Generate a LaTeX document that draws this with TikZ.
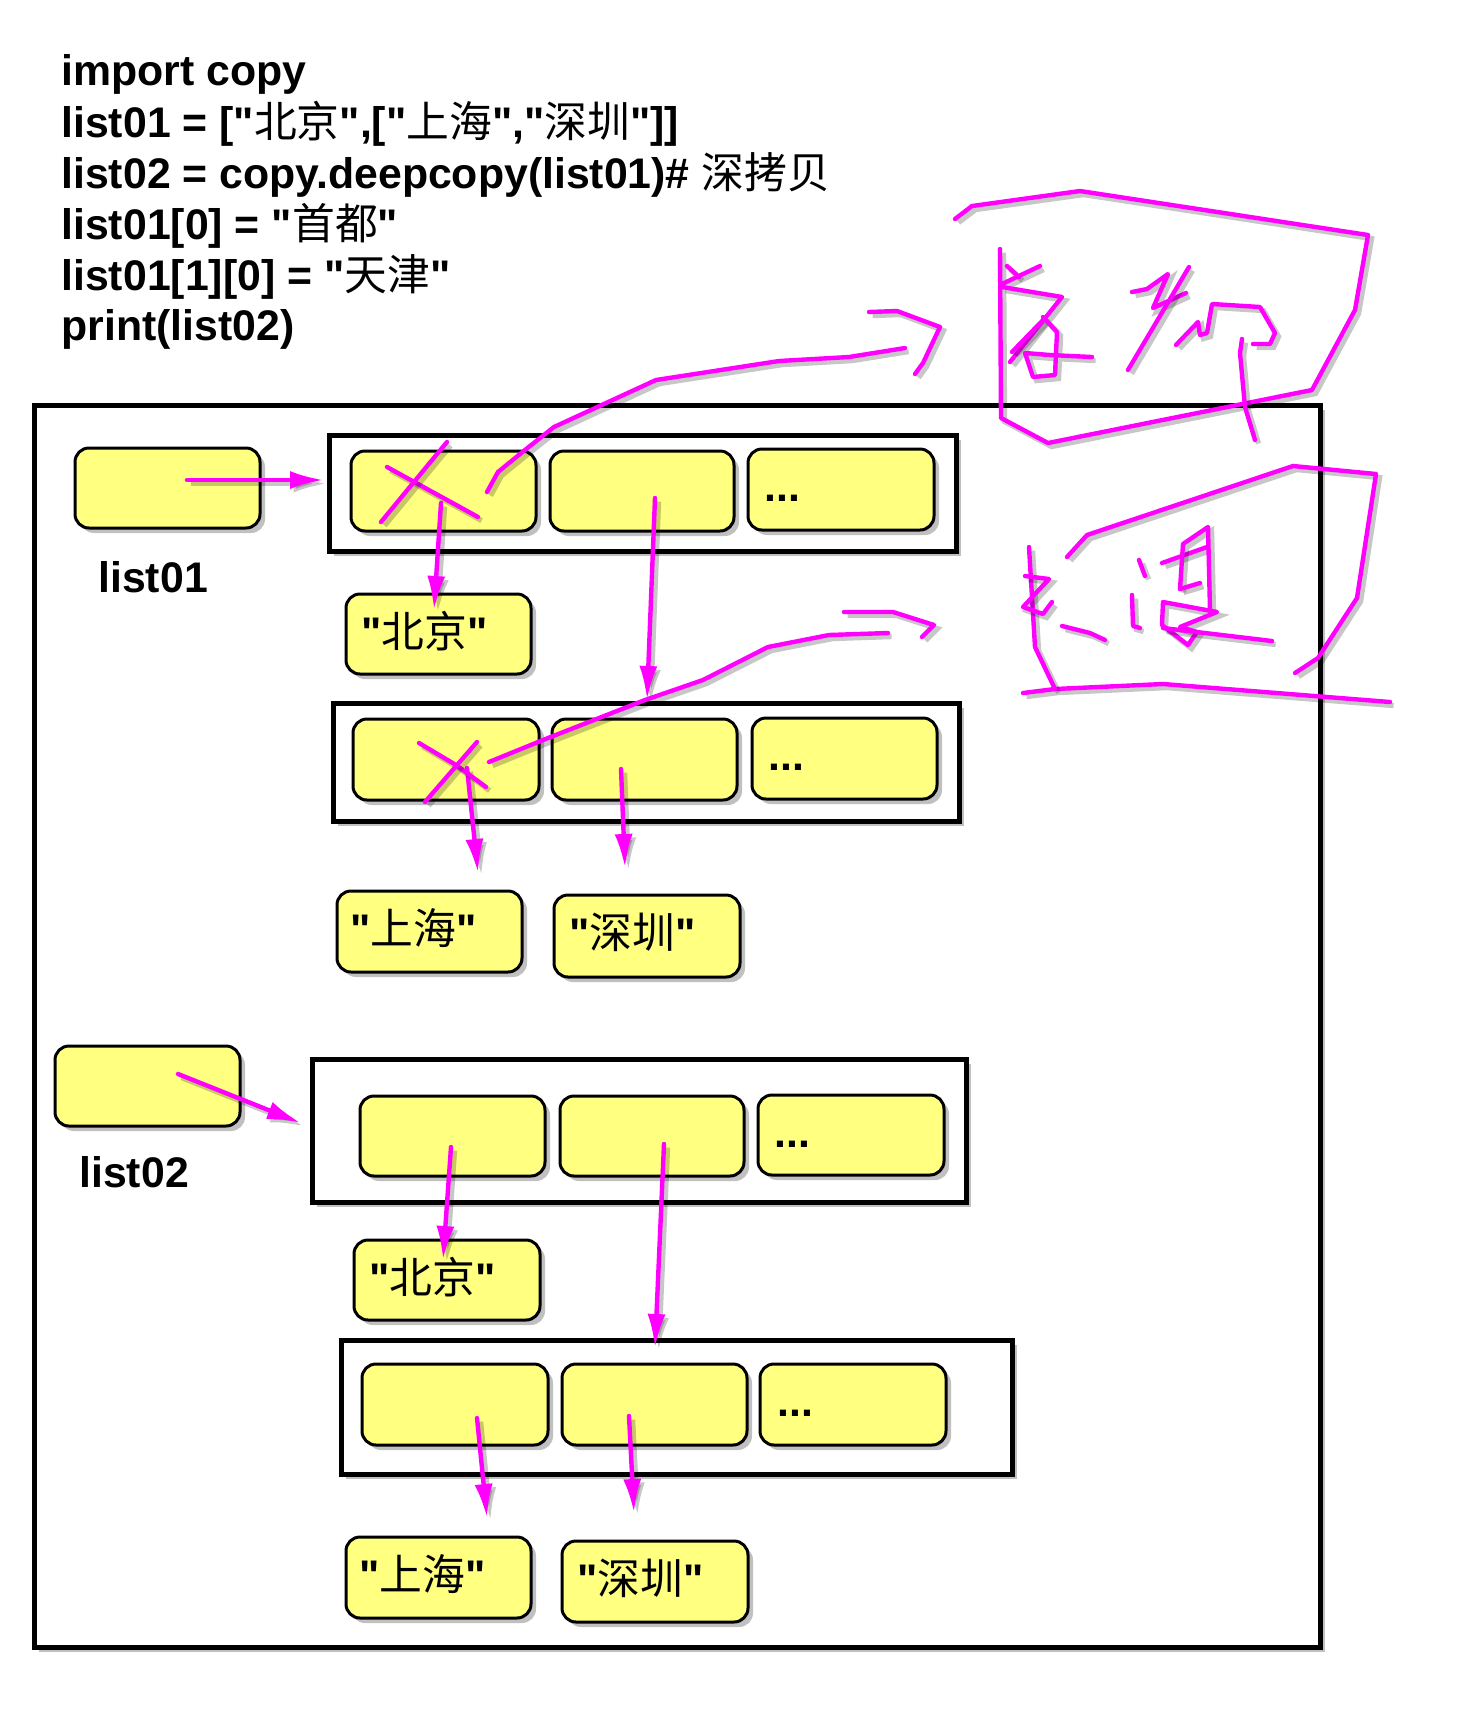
\documentclass[tikz,border=0pt]{standalone}
\usepackage{fontspec}
\setmainfont{Liberation Sans}[Ligatures=TeXOff]
\newfontfamily\zhfont{Noto Sans CJK SC}
\newcommand\zh[1]{{\zhfont\mdseries #1}}
\usetikzlibrary{arrows.meta,fit,shadows}
\definecolor{cellyellow}{RGB}{255,255,128}
\definecolor{inkmag}{RGB}{255,0,255}
\begin{document}
\begin{tikzpicture}[x=0.5pt,y=-0.5pt,
  shad/.style={drop shadow={shadow xshift=2.5pt,shadow yshift=-2.5pt,opacity=.35,fill=black!70}},
  cell/.style={draw, line width=1.5pt, rounded corners=7pt, fill=cellyellow, inner sep=0pt, shad},
  frame/.style={draw, line width=2.5pt, inner sep=0pt, fill=white, shad},
  code/.style={anchor=base west, inner sep=0pt, font=\fontsize{21.4}{25}\selectfont\bfseries},
  btxt/.style={anchor=west, inner sep=0pt, font=\fontsize{21.4}{25}\selectfont\bfseries},
  ink/.style={draw=inkmag, line width=2.2pt, line cap=round, line join=round,
    preaction={draw=black, opacity=.22, line width=2.6pt, transform canvas={xshift=1.8pt,yshift=-1.8pt}}},
  arr/.style={ink, -{Latex[length=17pt,width=9pt]}}
]
\useasboundingbox (0,0) rectangle (1476,1721);
\fill[white] (0,0) rectangle (1476,1721);

% code
\node[code] (l1) at (61,85) {import copy};
\node[code] (l2) at (61,137) {list01 = ["\zh{北京}",["\zh{上海}","\zh{深圳}"]]};
\node[code] (l3) at (61,188) {list02 = copy.deepcopy(list01)\# \zh{深拷贝}};
\node[code] (l4) at (61,239) {list01[0] = "\zh{首都}"};
\node[code] (l5) at (61,290) {list01[1][0] = "\zh{天津}"};
\node[code] (l6) at (61,340) {print(list02)};

% outer frame
\node[frame, fit={(34,405) (1320,1647)}] (outer) {};

% list01
\node[cell, fit={(75,448) (260,528)}] (v1) {};
\node[code] (lab1) at (98,592) {list01};
\node[frame, fit={(329,435) (956,551)}] (L1) {};
\node[cell, fit={(351,451) (536,531)}] (L1a) {};
\node[cell, fit={(550,451) (734,531)}] (L1b) {};
\node[cell, fit={(748,449) (934,530)}] (L1c) {};
\node[code] (L1d) at (764,501) {...};
\node[cell, fit={(346,594) (531,674)}] (bj1) {};
\node[btxt] (bj1t) at (361,631) {"\zh{北京}"};
\node[frame, fit={(333,703) (959,821)}] (I1) {};
\node[cell, fit={(353,719) (539,800)}] (I1a) {};
\node[cell, fit={(552,719) (737,800)}] (I1b) {};
\node[cell, fit={(752,718) (937,799)}] (I1c) {};
\node[code] (I1d) at (768,770) {...};
\node[cell, fit={(337,891) (522,972)}] (sh1) {};
\node[btxt] (sh1t) at (350,928) {"\zh{上海}"};
\node[cell, fit={(554,895) (740,977)}] (sz1) {};
\node[btxt] (sz1t) at (569,932) {"\zh{深圳}"};

% list02
\node[cell, fit={(55,1046) (240,1126)}] (v2) {};
\node[code] (lab2) at (79,1187) {list02};
\node[frame, fit={(312,1059) (966,1202)}] (L2) {};
\node[cell, fit={(360,1096) (545,1176)}] (L2a) {};
\node[cell, fit={(560,1096) (744,1176)}] (L2b) {};
\node[cell, fit={(758,1095) (944,1175)}] (L2c) {};
\node[code] (L2d) at (774,1147) {...};
\node[cell, fit={(354,1240) (540,1320)}] (bj2) {};
\node[btxt] (bj2t) at (369,1277) {"\zh{北京}"};
\node[frame, fit={(341,1340) (1012,1474)}] (I2) {};
\node[cell, fit={(362,1364) (548,1445)}] (I2a) {};
\node[cell, fit={(562,1364) (747,1445)}] (I2b) {};
\node[cell, fit={(760,1364) (946,1445)}] (I2c) {};
\node[code] (I2d) at (777,1416) {...};
\node[cell, fit={(346,1537) (531,1618)}] (sh2) {};
\node[btxt] (sh2t) at (359,1574) {"\zh{上海}"};
\node[cell, fit={(562,1541) (748,1622)}] (sz2) {};
\node[btxt] (sz2t) at (577,1578) {"\zh{深圳}"};

% arrow end points
\coordinate (a1s) at (187,480);  \coordinate (a1e) at (324,480);
\coordinate (a2s) at (441,503);  \coordinate (a2e) at (434,610);
\coordinate (a3s) at (655,498);  \coordinate (a3e) at (647,700);
\coordinate (a4s) at (467,768);  \coordinate (a4e) at (478,873);
\coordinate (a5s) at (621,769);  \coordinate (a5e) at (625,868);
\coordinate (a6s) at (178,1074); \coordinate (a6e) at (301,1123);
\coordinate (a7s) at (451,1147); \coordinate (a7e) at (443,1260);
\coordinate (a8s) at (664,1144); \coordinate (a8e) at (655,1348);
\coordinate (a9s) at (477,1418); \coordinate (a9e) at (487,1518);
\coordinate (a10s) at (629,1416); \coordinate (a10e) at (634,1513);
\draw[arr] (a1s) -- (a1e);
\draw[arr] (a2s) -- (a2e);
\draw[arr] (a3s) -- (a3e);
\draw[arr] (a4s) -- (a4e);
\draw[arr] (a5s) -- (a5e);
\draw[arr] (a6s) -- (a6e);
\draw[arr] (a7s) -- (a7e);
\draw[arr] (a8s) -- (a8e);
\draw[arr] (a9s) -- (a9e);
\draw[arr] (a10s) -- (a10e);

% handwriting (top)
\draw[ink] (387,467) -- (478,517);
\draw[ink] (447,442) -- (381,522);
\draw[ink] (487,492) -- (498,472) -- (525,450) -- (554,427) -- (656,380) -- (779,361) -- (849,357) -- (905,348);
\draw[ink] (869,312) -- (897,311) -- (940,327) -- (923,363) -- (915,374);
\draw[ink] (955,219) -- (972,206) -- (1080,191) -- (1368,235) -- (1355,310) -- (1312,390) -- (1048,443) -- (1001,418) -- (1000,249);
\draw[ink] (1007,266) -- (1019,277);
\draw[ink] (1002,284) -- (1040,266);
\draw[ink] (1002,287) -- (1062,297) -- (1010,362);
\draw[ink] (1012,352) -- (1045,318);
\draw[ink] (1043,317) -- (1057,332) -- (1055,375) -- (1033,377) -- (1025,353) -- (1050,355) -- (1092,357);
\draw[ink] (1132,292) -- (1147,289) -- (1168,274) -- (1153,308) -- (1186,293);
\draw[ink] (1189,267) -- (1128,370);
\draw[ink] (1176,345) -- (1198,322) -- (1200,335) -- (1207,333) -- (1212,304) -- (1260,307) -- (1275,333) -- (1270,344) -- (1253,344);
\draw[ink] (1242,339) -- (1240,353) -- (1245,407) -- (1255,440);

% handwriting (middle)
\draw[ink] (489,762) -- (543,740) -- (645,700) -- (703,680) -- (768,647) -- (829,635) -- (888,633);
\draw[ink] (844,612) -- (893,612) -- (934,625) -- (922,637);
\draw[ink] (419,743) -- (456,765) -- (486,787);
\draw[ink] (477,742) -- (425,802);
\draw[ink] (1067,557) -- (1087,535) -- (1293,466) -- (1376,474) -- (1357,598) -- (1318,658) -- (1295,673);
\draw[ink] (1023,693) -- (1055,689) -- (1163,684) -- (1390,702);
\draw[ink] (1029,547) -- (1035,647) -- (1055,689);
\draw[ink] (1025,576) -- (1049,579) -- (1023,607) -- (1043,614) -- (1052,602);
\draw[ink] (1062,626) -- (1090,633) -- (1105,640);
\draw[ink] (1139,560) -- (1145,576);
\draw[ink] (1132,595) -- (1133,626) -- (1140,628);
\draw[ink] (1162,563) -- (1207,547);
\draw[ink] (1180,589) -- (1183,544) -- (1208,527) -- (1210,610);
\draw[ink] (1180,589) -- (1200,583);
\draw[ink] (1163,602) -- (1162,625) -- (1188,645) -- (1197,632) -- (1180,627) -- (1217,612) -- cycle;
\draw[ink] (1163,628) -- (1272,641);
\end{tikzpicture}
\end{document}
